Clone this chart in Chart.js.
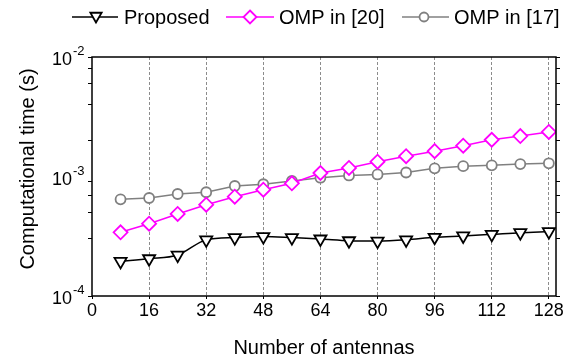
<!DOCTYPE html>
<html>
<head>
<meta charset="utf-8">
<script src="https://cdn.jsdelivr.net/npm/chart.js@4.4.1/dist/chart.umd.min.js"></script>
<style>
  html, body { margin: 0; padding: 0; background: #fff; }
  #wrap { width: 575px; height: 360px; }
</style>
</head>
<body>
<div id="wrap"><canvas id="chartTime" width="575" height="360"></canvas></div>
<script>
/* data */
const antennas = [8, 16, 24, 32, 40, 48, 56, 64, 72, 80, 88, 96, 104, 112, 120, 128];
const proposed = [1.95e-4, 2.05e-4, 2.2e-4, 2.95e-4, 3.08e-4, 3.14e-4, 3.08e-4, 3.0e-4,
                  2.9e-4, 2.88e-4, 2.95e-4, 3.1e-4, 3.18e-4, 3.28e-4, 3.39e-4, 3.46e-4];
const omp20 = [3.41e-4, 4.03e-4, 4.86e-4, 5.81e-4, 6.78e-4, 7.76e-4, 8.77e-4, 1.07e-3,
               1.18e-3, 1.33e-3, 1.48e-3, 1.63e-3, 1.81e-3, 2.03e-3, 2.18e-3, 2.36e-3];
const omp17 = [6.44e-4, 6.61e-4, 7.14e-4, 7.38e-4, 8.33e-4, 8.61e-4, 9.17e-4, 9.77e-4,
               1.02e-3, 1.04e-3, 1.08e-3, 1.17e-3, 1.22e-3, 1.24e-3, 1.27e-3, 1.29e-3];
const xTicks = [0, 16, 32, 48, 64, 80, 96, 112, 128];
const yDecades = [1e-4, 1e-3, 1e-2];
const yExponents = ['-4', '-3', '-2'];

const FONT = '"Liberation Sans", Arial, sans-serif';
const MAGENTA = '#ff00ff';
const GRAY = '#808080';

// log ticks 1..9 per decade
function logTicks() {
  const ticks = [];
  for (let d = 0; d < yDecades.length - 1; d++) {
    for (let m = 1; m < 10; m++) ticks.push({ value: yDecades[d] * m });
  }
  ticks.push({ value: yDecades[yDecades.length - 1] });
  return ticks;
}

function drawMarker(ctx, style, x, y, r, color) {
  ctx.save();
  ctx.beginPath();
  if (style === 'triDown') {
    const s = r * Math.sin(Math.PI / 3);
    ctx.moveTo(x, y + r);
    ctx.lineTo(x - s, y - r / 2);
    ctx.lineTo(x + s, y - r / 2);
    ctx.closePath();
  } else if (style === 'diamond') {
    ctx.moveTo(x, y - r);
    ctx.lineTo(x + r, y);
    ctx.lineTo(x, y + r);
    ctx.lineTo(x - r, y);
    ctx.closePath();
  } else {
    ctx.arc(x, y, r, 0, Math.PI * 2);
  }
  ctx.fillStyle = '#fff';
  ctx.fill();
  ctx.lineWidth = 1.8;
  ctx.strokeStyle = color;
  ctx.stroke();
  ctx.restore();
}

// legend, frame, y title and superscript y labels
const decorPlugin = {
  id: 'decor',
  afterDraw(chart) {
    const ctx = chart.ctx;
    const area = chart.chartArea;
    ctx.save();

    // frame
    ctx.lineWidth = 1.5;
    ctx.strokeStyle = '#000';
    ctx.strokeRect(area.left, area.top, area.right - area.left, area.bottom - area.top);

    // y labels 10^n
    const ys = chart.scales.y;
    ctx.fillStyle = '#000';
    ctx.textBaseline = 'alphabetic';
    yDecades.forEach((v, i) => {
      const py = ys.getPixelForValue(v);
      ctx.font = '18px ' + FONT;
      ctx.textAlign = 'right';
      ctx.fillText('10', 72, py + 8);
      ctx.font = '13px ' + FONT;
      ctx.textAlign = 'left';
      ctx.fillText(yExponents[i], 73, py - 2);
    });

    // y title (sits a little above the axis centre in the original)
    ctx.save();
    ctx.translate(28, 169);
    ctx.rotate(-Math.PI / 2);
    ctx.font = '20px ' + FONT;
    ctx.textAlign = 'center';
    ctx.textBaseline = 'middle';
    ctx.fillText('Computational time (s)', 0, 0);
    ctx.restore();

    // legend
    const items = [
      { label: 'Proposed', color: '#000', style: 'triDown', r: 6.5, x1: 72, x2: 118, mx: 96, tx: 124 },
      { label: 'OMP in [20]', color: MAGENTA, style: 'diamond', r: 6.5, x1: 226, x2: 274, mx: 250, tx: 279 },
      { label: 'OMP in [17]', color: GRAY, style: 'circle', r: 4.5, x1: 402, x2: 449, mx: 424, tx: 454 }
    ];
    const ly = 17;
    items.forEach(it => {
      ctx.beginPath();
      ctx.lineWidth = 1.5;
      ctx.strokeStyle = it.color;
      ctx.moveTo(it.x1, ly);
      ctx.lineTo(it.x2, ly);
      ctx.stroke();
      drawMarker(ctx, it.style, it.mx, it.style === 'triDown' ? ly - 1 : ly, it.r, it.color);
      ctx.font = '20px ' + FONT;
      ctx.fillStyle = '#000';
      ctx.textAlign = 'left';
      ctx.textBaseline = 'middle';
      ctx.fillText(it.label, it.tx, ly + 1);
    });
    ctx.restore();
  }
};

const ctx = document.getElementById('chartTime').getContext('2d');
new Chart(ctx, {
  type: 'line',
  data: {
    datasets: [
      {
        label: 'Proposed',
        data: antennas.map((a, i) => ({ x: a, y: proposed[i] })),
        borderColor: '#000',
        borderWidth: 1.5,
        cubicInterpolationMode: 'monotone',
        pointStyle: 'triangle',
        rotation: 180,
        pointRadius: 7,
        pointBorderWidth: 1.8,
        pointBackgroundColor: '#fff',
        pointBorderColor: '#000'
      },
      {
        label: 'OMP in [20]',
        data: antennas.map((a, i) => ({ x: a, y: omp20[i] })),
        borderColor: MAGENTA,
        borderWidth: 1.5,
        pointStyle: 'rectRot',
        pointRadius: 7,
        pointBorderWidth: 1.8,
        pointBackgroundColor: '#fff',
        pointBorderColor: MAGENTA
      },
      {
        label: 'OMP in [17]',
        data: antennas.map((a, i) => ({ x: a, y: omp17[i] })),
        borderColor: GRAY,
        borderWidth: 1.5,
        pointStyle: 'circle',
        pointRadius: 5,
        pointBorderWidth: 1.8,
        pointBackgroundColor: '#fff',
        pointBorderColor: GRAY
      }
    ]
  },
  options: {
    responsive: false,
    animation: false,
    layout: { padding: { top: 57, left: 0, right: 0, bottom: 0 } },
    plugins: {
      legend: { display: false },
      tooltip: { enabled: false }
    },
    scales: {
      x: {
        type: 'linear',
        min: 0,
        max: 130,
        afterBuildTicks: s => { s.ticks = xTicks.map(v => ({ value: v })); },
        afterFit: s => { s.height = 64; },
        grid: {
          color: c => (c.tick && c.tick.value > 0 ? '#8c8c8c' : 'rgba(0,0,0,0)'),
          lineWidth: 1,
          tickColor: '#000',
          tickLength: 3
        },
        border: { display: false, dash: [3, 2] },
        ticks: {
          color: '#000',
          padding: 1,
          maxRotation: 0,
          font: { family: FONT, size: 18 }
        },
        title: {
          display: true,
          text: 'Number of antennas',
          color: '#000',
          padding: 0,
          font: { family: FONT, size: 20 }
        }
      },
      y: {
        type: 'logarithmic',
        min: 1e-4,
        max: 1e-2,
        afterBuildTicks: s => { s.ticks = logTicks(); },
        afterFit: s => { s.width = 92; },
        grid: {
          color: c => (c.tick && Math.abs(c.tick.value - 1e-3) < 1e-9 ? '#8c8c8c' : 'rgba(0,0,0,0)'),
          lineWidth: 1,
          tickColor: '#000',
          tickLength: 4
        },
        border: { display: false, dash: [3, 2] },
        ticks: { callback: () => '' }
      },
      y2: {
        type: 'logarithmic',
        position: 'right',
        min: 1e-4,
        max: 1e-2,
        afterBuildTicks: s => { s.ticks = logTicks(); },
        afterFit: s => { s.width = 19; },
        grid: { drawOnChartArea: false, tickColor: '#000', tickLength: 4 },
        border: { display: false },
        ticks: { callback: () => '' }
      }
    }
  },
  plugins: [decorPlugin]
});
</script>
</body>
</html>
